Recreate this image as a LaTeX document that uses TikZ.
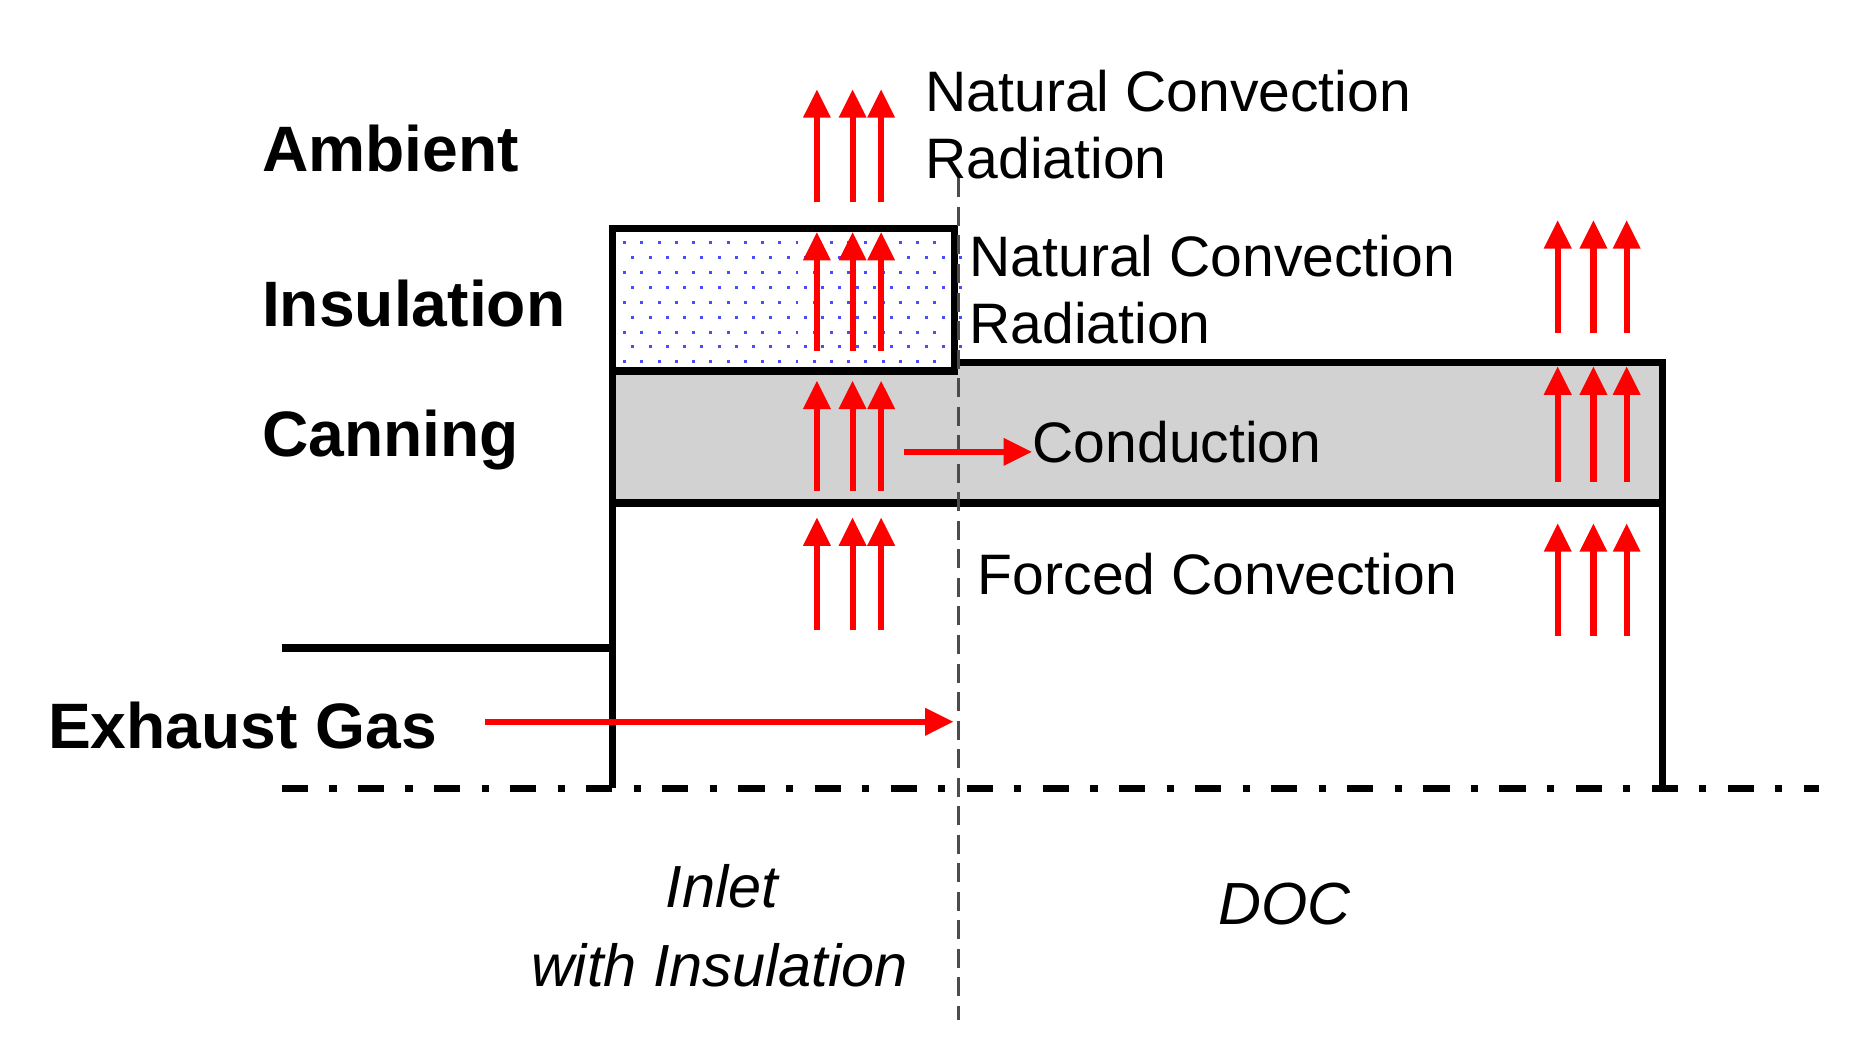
\documentclass[tikz,border=0pt]{standalone}
\usepackage{fontspec}
\setmainfont{Liberation Sans}
\usetikzlibrary{arrows.meta}
\begin{document}
\begin{tikzpicture}[x=0.5pt,y=-0.5pt,
  hf/.style={red,line width=2.6pt,-{Triangle[length=12pt,width=11pt]}},
  lbl/.style={anchor=west,font=\fontsize{27}{30}\selectfont\bfseries,inner sep=0},
  txt/.style={anchor=west,font=\fontsize{24}{27}\selectfont,inner sep=0},
  itx/.style={font=\fontsize{25}{28}\selectfont\itshape,inner sep=0},
  wall/.style={line width=3pt}]
\useasboundingbox (0,0) rectangle (1560,887);
% fills
\fill[gray!35] (515,312) rectangle (1398,423);
\fill[gray!35] (803,305) rectangle (1398,312);
\foreach \i in {0,...,8}{\foreach \j in {0,...,19}{
  \pgfmathsetmacro{\xx}{524+\j*14.5+mod(\i,2)*7}
  \pgfmathsetmacro{\yy}{203+\i*12.5}
  \fill[blue!70] (\xx,\yy) rectangle ++(2.5,2.5);}}
% walls
\draw[wall] (515,663) -- (515,192) -- (803,192) -- (803,312) -- (515,312);
\draw[wall] (803,305) -- (1398,305) -- (1398,663);
\draw[wall] (515,423) -- (1398,423);
\draw[wall] (237,545) -- (515,545);
\draw[line width=2.8pt,dash pattern=on 11pt off 9pt on 3pt off 9pt] (237,663) -- (1530,663);
\draw[gray!60!black,line width=1.3pt,dash pattern=on 8pt off 4pt] (806,150) -- (806,858);
% arrows
\foreach \x in {687,717,741}{
  \draw[hf] (\x,170) -- (\x,75);
  \draw[hf] (\x,295) -- (\x,195);
  \draw[hf] (\x,413) -- (\x,320);
  \draw[hf] (\x,530) -- (\x,435);}
\foreach \x in {1310,1340,1368}{
  \draw[hf] (\x,280) -- (\x,185);
  \draw[hf] (\x,405) -- (\x,308);
  \draw[hf] (\x,535) -- (\x,440);}
\node (eg) [lbl] at (40,610) {Exhaust Gas};
\coordinate (egend) at (802,607);
\draw[hf] (408,607) -- (egend);
\node (cond) [txt] at (868,372) {Conduction};
\coordinate (cstart) at (760,380);
\draw[hf] (cstart) -- (cstart -| cond.west);
% labels
\node (amb) [lbl] at (220,125) {Ambient};
\node (ins) [lbl] at (220,255) {Insulation};
\node (can) [lbl] at (220,370) {Canning};
\node (nc1) [txt] at (778,77) {Natural Convection};
\node (rd1) [txt] at (778,133) {Radiation};
\node (nc2) [txt] at (815,215) {Natural Convection};
\node (rd2) [txt] at (815,272) {Radiation};
\node (fc) [txt] at (822,483) {Forced Convection};
\node (in1) [itx] at (607,745) {Inlet};
\node (in2) [itx] at (605,812) {with Insulation};
\node (doc) [itx] at (1080,760) {DOC};
\end{tikzpicture}
\end{document}
